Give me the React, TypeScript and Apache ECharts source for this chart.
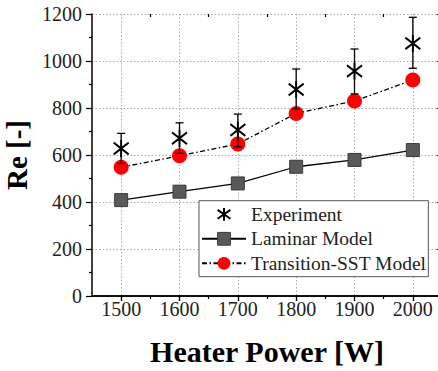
import React, { useEffect, useRef } from "react";
import * as echarts from "echarts";

const powers = [1500, 1600, 1700, 1800, 1900, 2000];
const experiment = [628, 671, 706, 879, 957, 1075];
const expLow = [564, 607, 635, 795, 860, 969];
const expHigh = [692, 737, 774, 966, 1051, 1186];
const laminar = [408, 444, 479, 550, 579, 621];
const transitionSST = [548, 597, 647, 777, 830, 919];
const xMajorTicks = [1500, 1600, 1700, 1800, 1900, 2000];
const xMinorTicks = [1550, 1650, 1750, 1850, 1950];

const FONT = "'Liberation Serif', 'Times New Roman', serif";
const ASTERISK = "path://M0 -8 L0 8 M-7 -5.5 L7 5.5 M-7 5.5 L7 -5.5";

export default function App() {
  const ref = useRef<HTMLDivElement>(null);
  useEffect(() => {
    if (!ref.current) return;
    const chart = echarts.init(ref.current, undefined, { renderer: "svg" });
    const xMin = 1450;
    const xMax = 2050;
    const axisLine = { show: true, lineStyle: { color: "#000", width: 1.5 } };
    const grid = { left: 92, top: 14, right: -4, bottom: 75, containLabel: false, outerBoundsMode: "none" };
    const plain = (v: number) => String(v);
    chart.setOption({
      animation: false,
      backgroundColor: "#fff",
      grid,
      legend: {
        orient: "vertical",
        left: 199,
        top: 200.7,
        data: ["Experiment", "Laminar Model", "Transition-SST Model"],
        itemWidth: 44,
        itemHeight: 16,
        itemGap: 4.5,
        padding: [3.6, 2, 3.4, 2],
        borderColor: "#555",
        borderWidth: 1,
        backgroundColor: "#fff",
        textStyle: { fontFamily: FONT, fontSize: 19.5, color: "#222", lineHeight: 20 },
        itemStyle: { borderWidth: "inherit" },
      },
      xAxis: [
        {
          type: "value",
          position: "bottom",
          min: xMin,
          max: xMax,
          axisLine,
          axisTick: { show: true, customValues: xMajorTicks, length: 5, lineStyle: { color: "#000", width: 1.2 } },
          axisLabel: { customValues: xMajorTicks, formatter: plain, fontFamily: FONT, fontSize: 20, color: "#222", margin: 3 },
          splitLine: { show: true, lineStyle: { color: "#aaa", width: 1, type: [1.5, 2] } },
          name: "Heater Power [W]",
          nameLocation: "middle",
          nameGap: 40,
          nameTextStyle: { fontFamily: FONT, fontSize: 30, fontWeight: "bold", color: "#000" },
        },
        {
          type: "value",
          position: "top",
          min: xMin,
          max: xMax,
          axisLine,
          axisTick: { show: true, inside: true, customValues: xMajorTicks, length: 5, lineStyle: { color: "#000", width: 1.2 } },
          axisLabel: { show: false },
          splitLine: { show: false },
        },
        {
          type: "value",
          position: "bottom",
          min: xMin,
          max: xMax,
          axisLine: { show: false },
          axisTick: { show: true, customValues: xMinorTicks, length: 3, lineStyle: { color: "#000", width: 1.2 } },
          axisLabel: { show: false },
          splitLine: { show: false },
        },
        {
          type: "value",
          position: "top",
          min: xMin,
          max: xMax,
          axisLine: { show: false },
          axisTick: { show: true, inside: true, customValues: xMinorTicks, length: 3, lineStyle: { color: "#000", width: 1.2 } },
          axisLabel: { show: false },
          splitLine: { show: false },
        },
      ],
      yAxis: [
        {
          type: "value",
          position: "left",
          min: 0,
          max: 1200,
          interval: 200,
          axisLine,
          axisTick: { show: true, length: 6, lineStyle: { color: "#000", width: 1.2 } },
          minorTick: { show: true, splitNumber: 2, length: 3, lineStyle: { color: "#000", width: 1.2 } },
          axisLabel: { formatter: plain, fontFamily: FONT, fontSize: 20, color: "#222", margin: 10 },
          splitLine: { show: true, lineStyle: { color: "#aaa", width: 1, type: [1.5, 2] } },
          name: "Re [-]",
          nameLocation: "middle",
          nameGap: 48,
          nameTextStyle: { fontFamily: FONT, fontSize: 29, fontWeight: "bold", color: "#000" },
        },
        {
          type: "value",
          position: "right",
          min: 0,
          max: 1200,
          interval: 200,
          axisLine,
          axisTick: { show: true, inside: true, length: 5, lineStyle: { color: "#000", width: 1.2 } },
          minorTick: { show: true, splitNumber: 2, length: 3, lineStyle: { color: "#000", width: 1.2 } },
          axisLabel: { show: false },
          splitLine: { show: false },
        },
      ],
      series: [
        {
          name: "Laminar Model",
          type: "line",
          data: powers.map((p, i) => [p, laminar[i]]),
          symbol: "rect",
          symbolSize: 13,
          itemStyle: { color: "#595959", borderColor: "#3a3a3a", borderWidth: 1 },
          lineStyle: { color: "#000", width: 1.3 },
          z: 3,
        },
        {
          name: "Transition-SST Model",
          type: "line",
          data: powers.map((p, i) => [p, transitionSST[i]]),
          symbol: "circle",
          symbolSize: 15,
          itemStyle: { color: "#ff0000", borderColor: "#ff0000", borderWidth: 0 },
          lineStyle: { color: "#000", width: 1.3, type: [5, 2.5, 1.5, 2.5] },
          z: 4,
        },
        {
          name: "errorbars",
          type: "custom",
          data: powers.map((p, i) => [p, expLow[i], expHigh[i]]),
          encode: { x: 0, y: [1, 2] },
          z: 5,
          renderItem: (params: any, api: any) => {
            const x = api.value(0);
            const lo = api.coord([x, api.value(1)]);
            const hi = api.coord([x, api.value(2)]);
            const w = 4;
            const st = { stroke: "#000", lineWidth: 1.3 };
            return {
              type: "group",
              children: [
                { type: "line", shape: { x1: hi[0], y1: hi[1], x2: lo[0], y2: lo[1] }, style: st },
                { type: "line", shape: { x1: hi[0] - w, y1: hi[1], x2: hi[0] + w, y2: hi[1] }, style: st },
                { type: "line", shape: { x1: lo[0] - w, y1: lo[1], x2: lo[0] + w, y2: lo[1] }, style: st },
              ],
            };
          },
        },
        {
          name: "Experiment",
          type: "line",
          data: powers.map((p, i) => [p, experiment[i]]),
          symbol: ASTERISK,
          symbolSize: [15, 17],
          itemStyle: { color: "#000", borderColor: "#000", borderWidth: 2 },
          lineStyle: { opacity: 0, width: 0 },
          z: 6,
        },
      ],
    });
    return () => chart.dispose();
  }, []);
  return <div ref={ref} style={{ width: 438, height: 371, position: "absolute", left: 0, top: 0 }} />;
}
